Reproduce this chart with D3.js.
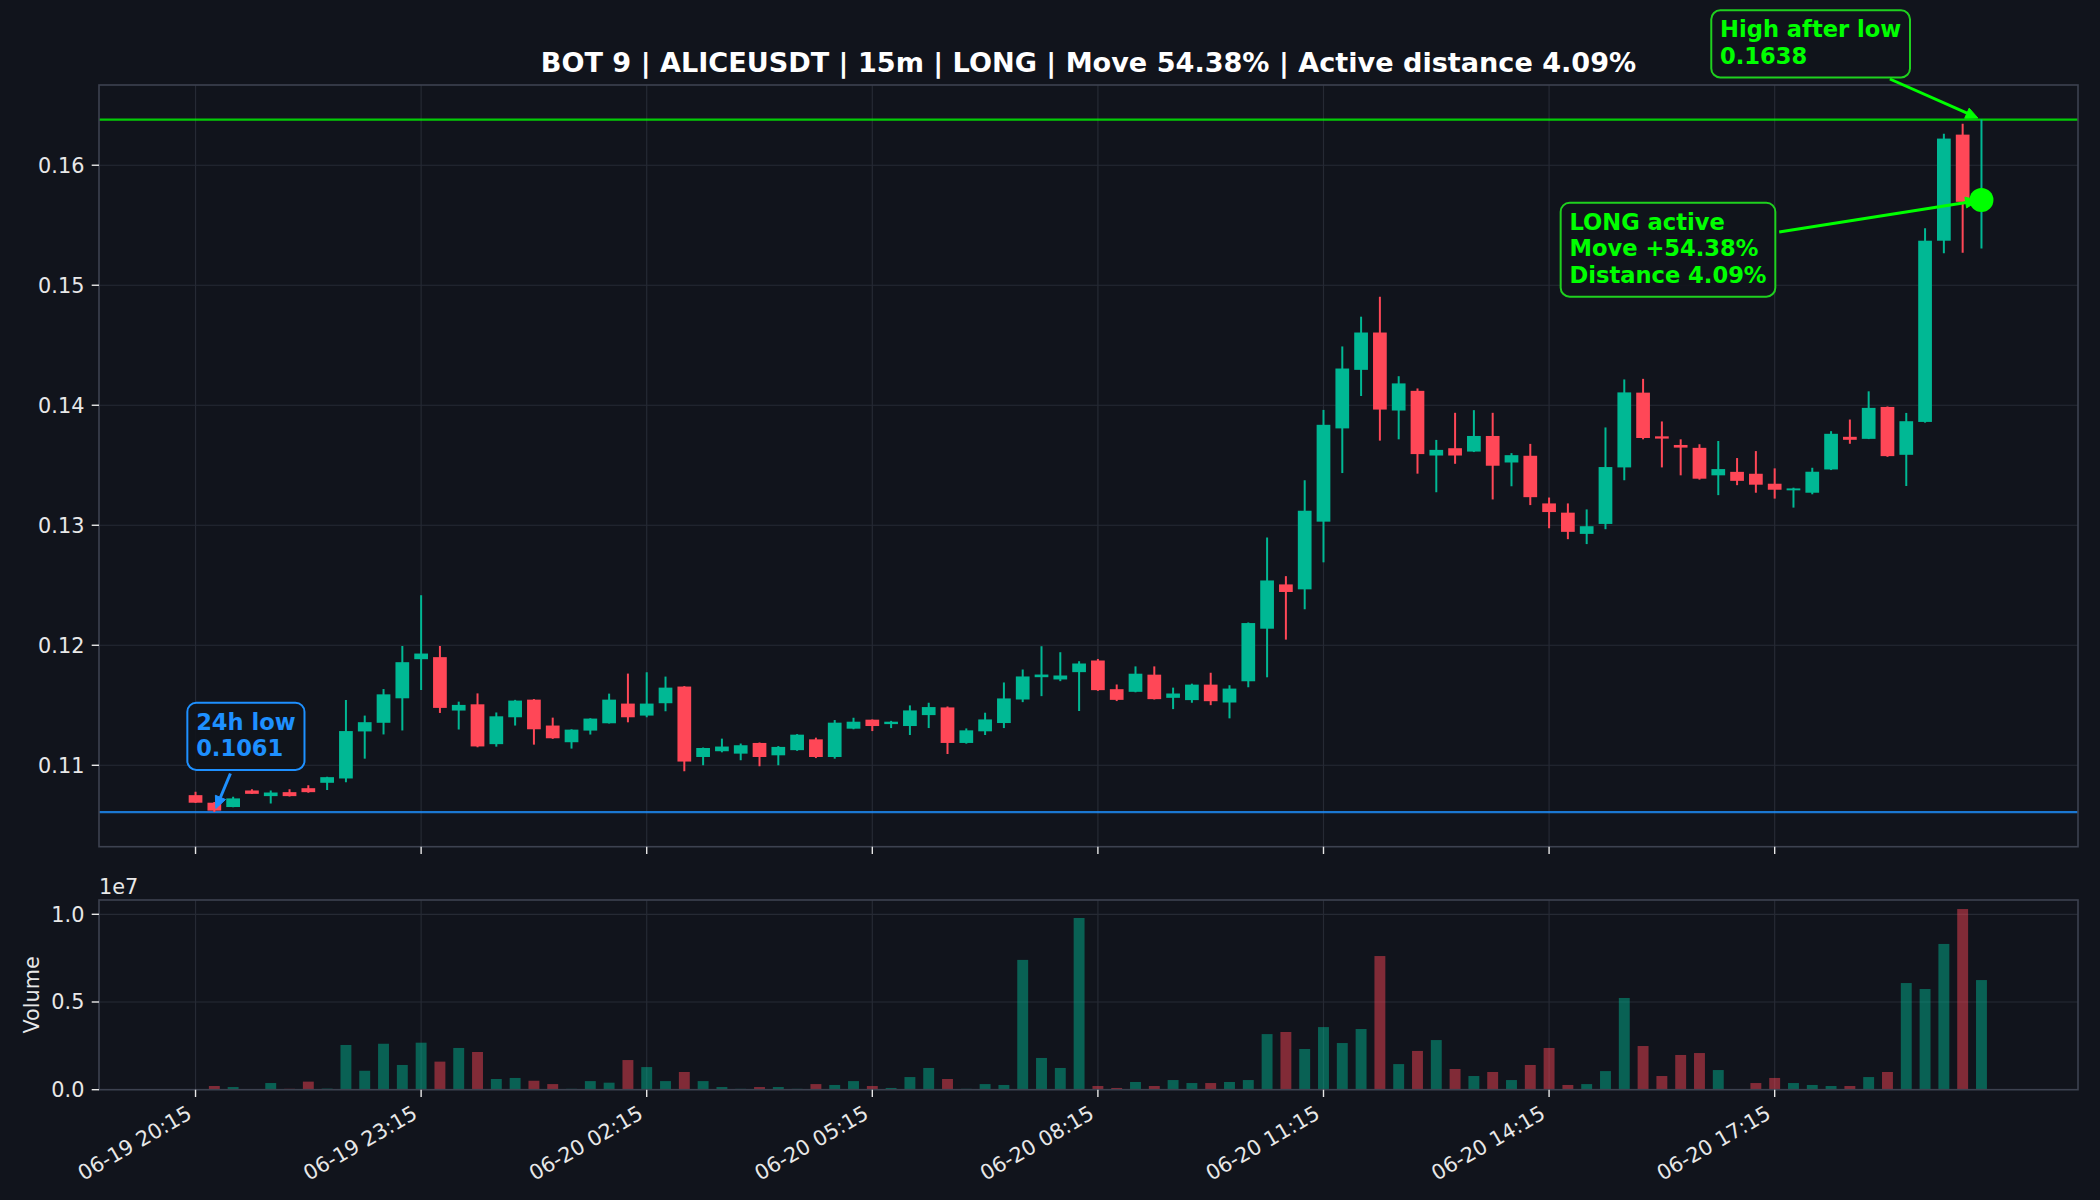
<!DOCTYPE html>
<html><head><meta charset="utf-8">
<script src="https://cdn.jsdelivr.net/npm/d3@7"></script>
<style>
html,body{margin:0;padding:0;background:#11141c;}
svg{display:block;font-family:"DejaVu Sans",sans-serif;}
</style></head><body>
<svg id="chart" width="2100" height="1200"></svg>
<script>
// ---- data (15m candles, index 0 = 06-19 20:15) ----
const openP  = [0.10751,0.10688,0.10652,0.10790,0.10743,0.10776,0.10809,0.10854,0.10890,0.11282,
  0.11354,0.11558,0.11884,0.11901,0.11456,0.11508,0.11176,0.11400,0.11547,0.11331,
  0.11192,0.11289,0.11350,0.11514,0.11414,0.11517,0.11656,0.11069,0.11117,0.11097,
  0.11186,0.11083,0.11126,0.11216,0.11069,0.11305,0.11380,0.11343,0.11327,0.11418,
  0.11482,0.11186,0.11283,0.11352,0.11548,0.11734,0.11715,0.11776,0.11873,0.11634,
  0.11612,0.11755,0.11562,0.11543,0.11672,0.11523,0.11700,0.12138,0.12507,0.12466,
  0.13030,0.13807,0.14295,0.14606,0.13956,0.14120,0.13581,0.13642,0.13614,0.13744,
  0.13523,0.13579,0.13182,0.13105,0.12928,0.13011,0.13482,0.14105,0.13741,0.13669,
  0.13645,0.13416,0.13445,0.13429,0.13346,0.13291,0.13271,0.13465,0.13737,0.13720,
  0.13986,0.13587,0.13861,0.15371,0.16255,0.15695];
const highP  = [0.10779,0.10695,0.10738,0.10800,0.10790,0.10801,0.10834,0.10905,0.11544,0.11414,
  0.11635,0.11994,0.12417,0.11994,0.11530,0.11599,0.11440,0.11545,0.11552,0.11397,
  0.11300,0.11392,0.11597,0.11764,0.11775,0.11739,0.11660,0.11148,0.11222,0.11181,
  0.11190,0.11160,0.11260,0.11230,0.11377,0.11396,0.11382,0.11370,0.11499,0.11521,
  0.11490,0.11307,0.11438,0.11690,0.11798,0.11992,0.11942,0.11867,0.11886,0.11673,
  0.11824,0.11824,0.11647,0.11680,0.11771,0.11667,0.12190,0.12898,0.12576,0.13375,
  0.13961,0.14490,0.14738,0.14904,0.14242,0.14140,0.13711,0.13937,0.13959,0.13937,
  0.13601,0.13678,0.13231,0.13182,0.13132,0.13815,0.14215,0.14220,0.13865,0.13716,
  0.13675,0.13702,0.13560,0.13618,0.13474,0.13313,0.13479,0.13784,0.13881,0.14116,
  0.13990,0.13936,0.15474,0.16263,0.16346,0.16380];
const lowP   = [0.10685,0.10610,0.10650,0.10760,0.10682,0.10740,0.10772,0.10793,0.10859,0.11055,
  0.11257,0.11290,0.11627,0.11436,0.11298,0.11150,0.11155,0.11331,0.11172,0.11220,
  0.11139,0.11256,0.11348,0.11358,0.11400,0.11450,0.10950,0.11000,0.11108,0.11042,
  0.10992,0.11000,0.11120,0.11060,0.11055,0.11300,0.11285,0.11310,0.11252,0.11310,
  0.11094,0.11180,0.11252,0.11310,0.11526,0.11576,0.11701,0.11452,0.11620,0.11535,
  0.11608,0.11548,0.11468,0.11521,0.11501,0.11391,0.11650,0.11733,0.12047,0.12300,
  0.12691,0.13435,0.14077,0.13705,0.13716,0.13430,0.13275,0.13512,0.13610,0.13215,
  0.13325,0.13168,0.12975,0.12884,0.12843,0.12967,0.13375,0.13716,0.13482,0.13416,
  0.13380,0.13251,0.13334,0.13271,0.13222,0.13147,0.13258,0.13460,0.13679,0.13718,
  0.13570,0.13327,0.13855,0.15266,0.15271,0.15307];
const closeP = [0.10688,0.10622,0.10724,0.10762,0.10773,0.10743,0.10776,0.10901,0.11285,0.11359,
  0.11591,0.11859,0.11931,0.11478,0.11503,0.11157,0.11408,0.11539,0.11300,0.11225,
  0.11297,0.11389,0.11547,0.11400,0.11514,0.11647,0.11031,0.11144,0.11156,0.11167,
  0.11069,0.11153,0.11255,0.11069,0.11355,0.11363,0.11327,0.11363,0.11457,0.11485,
  0.11186,0.11291,0.11382,0.11557,0.11740,0.11756,0.11748,0.11848,0.11626,0.11545,
  0.11763,0.11551,0.11598,0.11672,0.11534,0.11639,0.12185,0.12540,0.12444,0.13121,
  0.13837,0.14306,0.14606,0.13964,0.14182,0.13593,0.13628,0.13581,0.13744,0.13496,
  0.13584,0.13234,0.13110,0.12945,0.12992,0.13485,0.14107,0.13727,0.13722,0.13647,
  0.13388,0.13468,0.13370,0.13338,0.13296,0.13307,0.13446,0.13762,0.13712,0.13978,
  0.13576,0.13867,0.15371,0.16222,0.15695,0.15710];
const volume = [0.04e6,0.21e6,0.15e6,0.04e6,0.38e6,0.05e6,0.46e6,0.06e6,2.55e6,1.08e6,
  2.62e6,1.41e6,2.68e6,1.60e6,2.38e6,2.15e6,0.61e6,0.67e6,0.51e6,0.32e6,
  0.05e6,0.49e6,0.40e6,1.69e6,1.29e6,0.49e6,1.01e6,0.49e6,0.15e6,0.05e6,
  0.15e6,0.15e6,0.05e6,0.32e6,0.27e6,0.49e6,0.21e6,0.10e6,0.72e6,1.24e6,
  0.61e6,0.05e6,0.32e6,0.27e6,7.40e6,1.81e6,1.24e6,9.79e6,0.21e6,0.10e6,
  0.44e6,0.21e6,0.55e6,0.38e6,0.38e6,0.44e6,0.55e6,3.17e6,3.29e6,2.32e6,
  3.57e6,2.66e6,3.46e6,7.62e6,1.46e6,2.21e6,2.83e6,1.18e6,0.78e6,1.01e6,
  0.55e6,1.41e6,2.38e6,0.27e6,0.32e6,1.06e6,5.23e6,2.49e6,0.78e6,1.98e6,
  2.09e6,1.12e6,0.04e6,0.38e6,0.67e6,0.38e6,0.27e6,0.21e6,0.21e6,0.72e6,
  1.01e6,6.08e6,5.74e6,8.31e6,10.30e6,6.25e6];
const tickIdx = [0,12,24,36,48,60,72,84];
const tickLabels = ["06-19 20:15","06-19 23:15","06-20 02:15","06-20 05:15","06-20 08:15","06-20 11:15","06-20 14:15","06-20 17:15"];
const priceTicks = [0.11,0.12,0.13,0.14,0.15,0.16];
const volTicks = [0, 5e6, 1e7];
const volTickLabels = ["0.0","0.5","1.0"];
const lowValue = 0.1061, lowIdx = 1;
const highValue = 0.1638, highIdx = 95;
const activePrice = 0.1571, activeIdx = 95;
const titleText = "BOT 9 | ALICEUSDT | 15m | LONG | Move 54.38% | Active distance 4.09%";
const lowLines = ["24h low", "0.1061"];
const highLines = ["High after low", "0.1638"];
const activeLines = ["LONG active", "Move +54.38%", "Distance 4.09%"];

// ---- style ----
const BG = "#11141c", GRID = "#262a34", SPINE = "#3d4250", TXT = "#e8e8e8";
const UP = "#00b894", DOWN = "#ff4757";
const LIME = "#00ff00", BLUE = "#1e90ff";
const FS = 20.8;

const svg = d3.select("#chart");
svg.append("rect").attr("width",2100).attr("height",1200).attr("fill",BG);

const L = 99, R = 2078, T1 = 85, B1 = 846.7, T2 = 900, B2 = 1089.7;
const n = closeP.length;
const xpad = 0.35, xm = 0.05*((n-1+xpad) - (-xpad));
const x = d3.scaleLinear().domain([-xpad - xm, n-1+xpad+xm]).range([L, R]);
const pmin = d3.min(lowP), pmax = d3.max(highP), pm = 0.05*(pmax-pmin);
const y = d3.scaleLinear().domain([pmin-pm, pmax+pm]).range([B1, T1]);
const vmax = d3.max(volume);
const yv = d3.scaleLinear().domain([0, vmax*1.05]).range([B2, T2]);

svg.append("clipPath").attr("id","c1").append("rect").attr("x",L).attr("y",T1).attr("width",R-L).attr("height",B1-T1);
svg.append("clipPath").attr("id","c2").append("rect").attr("x",L).attr("y",T2).attr("width",R-L).attr("height",B2-T2);

// grids
const g1 = svg.append("g").attr("clip-path","url(#c1)");
const g2 = svg.append("g").attr("clip-path","url(#c2)");
g1.selectAll(".gx").data(tickIdx).join("line").attr("x1",d=>x(d)).attr("x2",d=>x(d)).attr("y1",T1).attr("y2",B1).attr("stroke",GRID).attr("stroke-width",1.2);
g1.selectAll(".gy").data(priceTicks).join("line").attr("x1",L).attr("x2",R).attr("y1",d=>y(d)).attr("y2",d=>y(d)).attr("stroke",GRID).attr("stroke-width",1.2);
g2.selectAll(".gx").data(tickIdx).join("line").attr("x1",d=>x(d)).attr("x2",d=>x(d)).attr("y1",T2).attr("y2",B2).attr("stroke",GRID).attr("stroke-width",1.2);
g2.selectAll(".gy").data(volTicks).join("line").attr("x1",L).attr("x2",R).attr("y1",d=>yv(d)).attr("y2",d=>yv(d)).attr("stroke",GRID).attr("stroke-width",1.2);

// reference lines
g1.append("line").attr("x1",L).attr("x2",R).attr("y1",y(highValue)).attr("y2",y(highValue)).attr("stroke",LIME).attr("stroke-opacity",0.78).attr("stroke-width",2.2);
g1.append("line").attr("x1",L).attr("x2",R).attr("y1",y(lowValue)).attr("y2",y(lowValue)).attr("stroke",BLUE).attr("stroke-opacity",0.8).attr("stroke-width",2.2);

// candles
const idx = d3.range(n);
const bw = x(0.73) - x(0);
const col = i => closeP[i] >= openP[i] ? UP : DOWN;
g1.selectAll(".wick").data(idx).join("line")
  .attr("x1",i=>x(i)).attr("x2",i=>x(i)).attr("y1",i=>y(highP[i])).attr("y2",i=>y(lowP[i]))
  .attr("stroke",col).attr("stroke-width",2);
g1.selectAll(".body").data(idx).join("rect")
  .attr("x",i=>x(i)-bw/2).attr("width",bw)
  .attr("y",i=>y(Math.max(openP[i],closeP[i])))
  .attr("height",i=>Math.max(1.5, Math.abs(y(openP[i])-y(closeP[i]))))
  .attr("fill",col);

// volume
const vw = x(0.58) - x(0);
g2.selectAll(".vol").data(idx).join("rect")
  .attr("x",i=>x(i)-vw/2).attr("width",vw)
  .attr("y",i=>yv(volume[i])).attr("height",i=>yv(0)-yv(volume[i]))
  .attr("fill",col).attr("fill-opacity",0.47);

// spines
[[T1,B1],[T2,B2]].forEach(([t,b])=>{
  svg.append("rect").attr("x",L).attr("y",t).attr("width",R-L).attr("height",b-t)
    .attr("fill","none").attr("stroke",SPINE).attr("stroke-width",1.6);
});

// ticks
const TL = 7.3, TP = 7.3;
svg.selectAll(".yt").data(priceTicks).join("line").attr("x1",L-TL).attr("x2",L).attr("y1",d=>y(d)).attr("y2",d=>y(d)).attr("stroke",TXT).attr("stroke-width",1.4);
svg.selectAll(".ytl").data(priceTicks).join("text").attr("x",L-TL-TP).attr("y",d=>y(d)).attr("dy","0.36em")
  .attr("text-anchor","end").attr("fill",TXT).attr("font-size",FS).text(d=>d3.format(".2f")(d));
svg.selectAll(".vt").data(volTicks).join("line").attr("x1",L-TL).attr("x2",L).attr("y1",d=>yv(d)).attr("y2",d=>yv(d)).attr("stroke",TXT).attr("stroke-width",1.4);
svg.selectAll(".vtl").data(volTicks).join("text").attr("x",L-TL-TP).attr("y",d=>yv(d)).attr("dy","0.36em")
  .attr("text-anchor","end").attr("fill",TXT).attr("font-size",FS).text((d,i)=>volTickLabels[i]);
svg.selectAll(".xt1").data(tickIdx).join("line").attr("x1",d=>x(d)).attr("x2",d=>x(d)).attr("y1",B1).attr("y2",B1+TL).attr("stroke",TXT).attr("stroke-width",1.4);
svg.selectAll(".xt2").data(tickIdx).join("line").attr("x1",d=>x(d)).attr("x2",d=>x(d)).attr("y1",B2).attr("y2",B2+TL).attr("stroke",TXT).attr("stroke-width",1.4);
const asc = 0.729*FS, desc = 0.226*FS;
svg.selectAll(".xtl").data(tickIdx).join("text")
  .attr("transform",(d)=>`translate(${x(d)-0.5*desc},${B2+TL+TP+0.866*asc}) rotate(-30)`)
  .attr("text-anchor","end").attr("fill",TXT).attr("font-size",FS).text((d,i)=>tickLabels[i]);

svg.append("text").attr("x",L).attr("y",894).attr("fill",TXT).attr("font-size",FS).text("1e7");
svg.append("text").attr("transform",`translate(39,${(T2+B2)/2}) rotate(-90)`).attr("text-anchor","middle")
  .attr("fill",TXT).attr("font-size",FS).text("Volume");

// title
svg.append("text").attr("x",(L+R)/2).attr("y",72).attr("text-anchor","middle").attr("fill","#ffffff")
  .attr("font-size",27.1).attr("font-weight","bold").text(titleText);

// dot
const annG = svg.append("g");
const dotG = svg.append("g");
dotG.append("circle").attr("cx",x(activeIdx)).attr("cy",y(activePrice)).attr("r",12).attr("fill",LIME);

// annotations
function annotate(lines, color, edge, tx, ty, target){
  const AF = 22.6, LH = 26.8, PADX = 8.8;
  const g = annG.append("g");
  const box = g.append("rect");
  const texts = lines.map((s,k)=> g.append("text").attr("x",tx).attr("y",ty+k*LH).attr("fill",color)
    .attr("font-size",AF).attr("font-weight","bold").text(s));
  const w = d3.max(texts, t=>t.node().getComputedTextLength());
  const x0 = tx-PADX, x1 = tx+w+PADX, y0 = ty-26.8, y1 = ty+(lines.length-1)*LH+13.5;
  box.attr("x",x0).attr("y",y0).attr("width",x1-x0).attr("height",y1-y0).attr("rx",9).attr("ry",9)
    .attr("fill",BG).attr("fill-opacity",0.9).attr("stroke",edge).attr("stroke-width",2);
  const cx=(x0+x1)/2, cy=(y0+y1)/2, dx=target[0]-cx, dy=target[1]-cy;
  let s = Infinity;
  if(dx>0) s=Math.min(s,(x1-cx)/dx); if(dx<0) s=Math.min(s,(x0-cx)/dx);
  if(dy>0) s=Math.min(s,(y1-cy)/dy); if(dy<0) s=Math.min(s,(y0-cy)/dy);
  const len = Math.hypot(dx,dy), ux=dx/len, uy=dy/len;
  const sx = cx+dx*s+ux*3.9, sy = cy+dy*s+uy*3.9;
  const ex = target[0]-ux*3.9, ey = target[1]-uy*3.9;
  const HL = 12, HW = 5.5;
  const bx = ex-ux*HL, by = ey-uy*HL;
  g.append("line").attr("x1",sx).attr("y1",sy).attr("x2",bx+ux*2).attr("y2",by+uy*2).attr("stroke",color).attr("stroke-width",3);
  g.append("path").attr("d",`M${ex},${ey}L${bx-uy*HW},${by+ux*HW}L${bx+uy*HW},${by-ux*HW}Z`).attr("fill",color).attr("stroke",color).attr("stroke-width",1);
}
const lowPt = [x(lowIdx), y(lowValue)];
annotate(lowLines, BLUE, BLUE, lowPt[0]-18.2, lowPt[1]-82.5, lowPt);
const highPt = [x(highIdx), y(highValue)];
annotate(highLines, LIME, "#1fd11f", highPt[0]-261.4, highPt[1]-82.5, highPt);
const actPt = [x(activeIdx), y(activePrice)];
annotate(activeLines, LIME, "#1fd11f", actPt[0]-412, actPt[1]+29.5, actPt);
</script></body></html>
